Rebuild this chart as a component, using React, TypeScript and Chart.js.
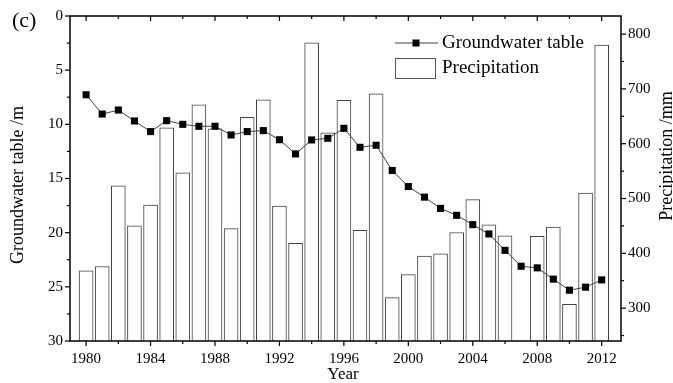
import React, { useEffect, useRef } from 'react';
import { Chart, registerables } from 'chart.js';

Chart.register(...registerables);

const years = [1980, 1981, 1982, 1983, 1984, 1985, 1986, 1987, 1988, 1989, 1990, 1991, 1992, 1993, 1994, 1995, 1996, 1997, 1998, 1999, 2000, 2001, 2002, 2003, 2004, 2005, 2006, 2007, 2008, 2009, 2010, 2011, 2012];
const groundwater = [7.27, 9.05, 8.68, 9.69, 10.67, 9.66, 10.0, 10.18, 10.18, 10.98, 10.67, 10.58, 11.42, 12.73, 11.44, 11.29, 10.37, 12.12, 11.93, 14.26, 15.74, 16.72, 17.76, 18.4, 19.26, 20.12, 21.63, 23.1, 23.25, 24.29, 25.31, 25.03, 24.36];
const precipitation = [368, 376, 523, 450, 488, 629, 547, 671, 627, 445, 648, 680, 486, 418, 784, 620, 679, 442, 691, 319, 361, 395, 399, 438, 498, 452, 432, null, 431, 448, 307, 510, 780];
const xTicks = [1980, 1984, 1988, 1992, 1996, 2000, 2004, 2008, 2012];
const xMinorTicks = [1982, 1986, 1990, 1994, 1998, 2002, 2006, 2010];
const leftTicks = [0, 5, 10, 15, 20, 25, 30];
const leftMinorTicks = [2.5, 7.5, 12.5, 17.5, 22.5, 27.5];
const rightTicks = [300, 400, 500, 600, 700, 800];
const rightMinorTicks = [250, 350, 450, 550, 650, 750];
const seriesNames = ['Groundwater table', 'Precipitation'];
const leftTitle = 'Groundwater table /m';
const rightTitle = 'Precipitation /mm';
const xTitle = 'Year';
const panelLabel = '(c)';

const FONT = "'Liberation Serif', 'Times New Roman', serif";

const decorPlugin = {
  id: 'decor',
  afterDraw(chart: any) {
    const { ctx, chartArea: a, scales } = chart;
    const x = scales.x, yl = scales.y, yr = scales.y1;
    const seg = (x1: number, y1: number, x2: number, y2: number) => {
      ctx.beginPath();
      ctx.moveTo(x1, y1);
      ctx.lineTo(x2, y2);
      ctx.stroke();
    };
    ctx.save();
    ctx.strokeStyle = '#000';
    ctx.lineWidth = 1.5;
    ctx.strokeRect(a.left, a.top, a.right - a.left, a.bottom - a.top);
    ctx.lineWidth = 1.2;
    xTicks.forEach((v) => {
      const p = x.getPixelForValue(v);
      seg(p, a.bottom, p, a.bottom + 5);
      seg(p, a.top, p, a.top + 5);
    });
    xMinorTicks.forEach((v) => {
      const p = x.getPixelForValue(v);
      seg(p, a.bottom, p, a.bottom + 3);
      seg(p, a.top, p, a.top + 3);
    });
    leftTicks.forEach((v) => {
      const p = yl.getPixelForValue(v);
      seg(a.left, p, a.left - 5, p);
    });
    leftMinorTicks.forEach((v) => {
      const p = yl.getPixelForValue(v);
      seg(a.left, p, a.left - 3, p);
    });
    rightTicks.forEach((v) => {
      const p = yr.getPixelForValue(v);
      seg(a.right, p, a.right + 5, p);
    });
    rightMinorTicks.forEach((v) => {
      const p = yr.getPixelForValue(v);
      seg(a.right, p, a.right + 3, p);
    });

    // titles
    ctx.fillStyle = '#000';
    ctx.textAlign = 'center';
    ctx.textBaseline = 'middle';
    ctx.font = `18px ${FONT}`;
    ctx.save();
    ctx.translate(18, 185);
    ctx.rotate(-Math.PI / 2);
    ctx.fillText(leftTitle, 0, 0);
    ctx.restore();
    ctx.save();
    ctx.translate(667, 156);
    ctx.rotate(-Math.PI / 2);
    ctx.fillText(rightTitle, 0, 0);
    ctx.restore();
    ctx.font = `17px ${FONT}`;
    ctx.fillText(xTitle, 343, 375);
    ctx.font = `22px ${FONT}`;
    ctx.textAlign = 'left';
    ctx.fillText(panelLabel, 12, 21);

    // legend
    ctx.font = `19px ${FONT}`;
    ctx.strokeStyle = '#444';
    ctx.lineWidth = 1;
    seg(395, 43, 438, 43);
    ctx.fillRect(416 - 3.5, 43 - 3.5, 7, 7);
    ctx.fillText(seriesNames[0], 442, 43);
    ctx.strokeStyle = '#555';
    ctx.strokeRect(395.5, 58.5, 40, 20);
    ctx.fillText(seriesNames[1], 442, 68);
    ctx.restore();
  },
};

export default function App() {
  const ref = useRef<HTMLCanvasElement>(null);
  useEffect(() => {
    if (!ref.current) return;
    const tickFont = { family: FONT, size: 15 };
    const chart = new Chart(ref.current, {
      data: {
        datasets: [
          {
            type: 'line',
            label: seriesNames[0],
            data: years.map((yr, i) => ({ x: yr, y: groundwater[i] })),
            yAxisID: 'y',
            borderColor: '#444',
            borderWidth: 1,
            pointStyle: 'rect',
            pointRadius: 5,
            pointBorderWidth: 0,
            pointBackgroundColor: '#000',
            pointBorderColor: '#000',
            order: 1,
          },
          {
            type: 'bar',
            label: seriesNames[1],
            data: years.map((yr, i) => ({ x: yr, y: precipitation[i] })),
            yAxisID: 'y1',
            backgroundColor: 'rgba(255,255,255,1)',
            borderColor: '#444',
            borderWidth: 1,
            barThickness: 14,
            order: 2,
          },
        ],
      } as any,
      options: {
        responsive: false,
        animation: false,
        layout: { padding: { top: 15, left: 0, right: 0, bottom: 0 } },
        plugins: { legend: { display: false }, tooltip: { enabled: false } },
        scales: {
          x: {
            type: 'linear',
            min: 1979,
            max: 2013.2,
            offset: false,
            grid: { display: false, drawTicks: false },
            border: { display: false },
            afterBuildTicks: (s: any) => { s.ticks = xTicks.map((v) => ({ value: v })); },
            afterFit: (s: any) => { s.height = 42; },
            ticks: { font: tickFont, color: '#000', padding: 9, maxRotation: 0, callback: (v: any) => String(v) },
          },
          y: {
            type: 'linear',
            position: 'left',
            reverse: true,
            min: 0,
            max: 30,
            grid: { display: false, drawTicks: false },
            border: { display: false },
            afterBuildTicks: (s: any) => { s.ticks = leftTicks.map((v) => ({ value: v })); },
            afterFit: (s: any) => { s.width = 70; },
            ticks: { font: tickFont, color: '#000', padding: 7, callback: (v: any) => String(v) },
          },
          y1: {
            type: 'linear',
            position: 'right',
            min: 240,
            max: 833,
            grid: { display: false, drawTicks: false },
            border: { display: false },
            afterBuildTicks: (s: any) => { s.ticks = rightTicks.map((v) => ({ value: v })); },
            afterFit: (s: any) => { s.width = 52; },
            ticks: { font: tickFont, color: '#000', padding: 7, callback: (v: any) => String(v) },
          },
        },
      } as any,
      plugins: [decorPlugin],
    });
    return () => chart.destroy();
  }, []);
  return (
    <div style={{ position: 'fixed', left: 0, top: 0, width: 673, height: 383, background: '#fff' }}>
      <canvas ref={ref} width={673} height={383} />
    </div>
  );
}
